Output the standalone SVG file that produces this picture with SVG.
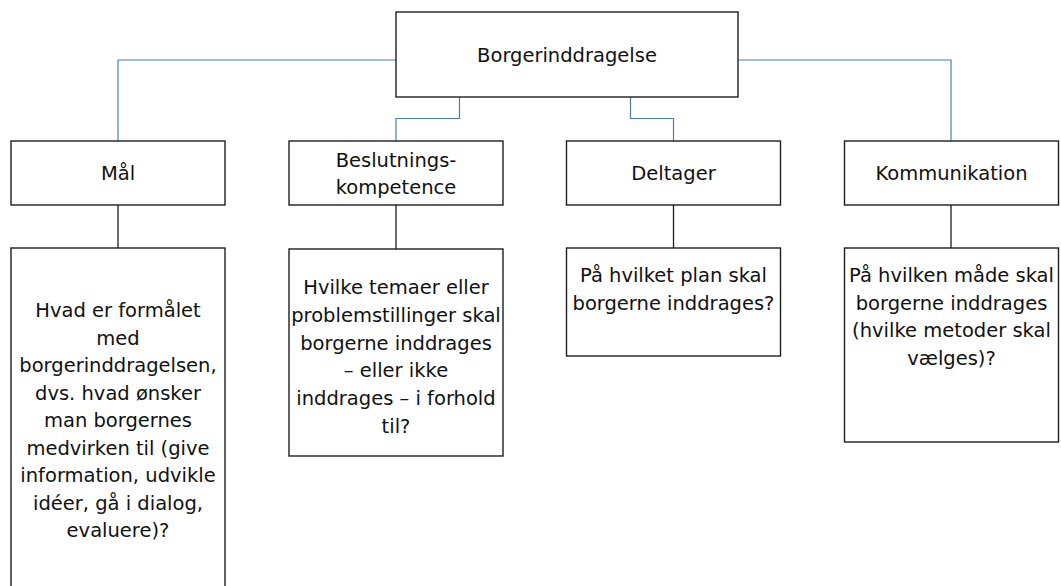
<svg xmlns="http://www.w3.org/2000/svg" width="1061" height="586" viewBox="0 0 1061 586">
<style>
.box{fill:#fff;stroke:#1e1e1e;stroke-width:1.4}
.blue{fill:none;stroke:#4a7ebb;stroke-width:1.2}
.blk{fill:none;stroke:#1e1e1e;stroke-width:1.3}
text{font-family:"DejaVu Sans",Verdana,sans-serif;font-size:19.5px;fill:#111;text-anchor:middle}
</style>
<rect width="1061" height="586" fill="#fff"/>
<g id="connectors">
<polyline class="blue" points="396,60 118,60 118,141"/>
<polyline class="blue" points="459.5,97 459.5,118.5 396,118.5 396,141"/>
<polyline class="blue" points="630.5,97 630.5,118.5 673.5,118.5 673.5,141"/>
<polyline class="blue" points="738,60 951,60 951,141"/>
<line class="blk" x1="118" y1="205" x2="118" y2="248"/>
<line class="blk" x1="396" y1="205" x2="396" y2="249"/>
<line class="blk" x1="673.5" y1="205" x2="673.5" y2="248"/>
<line class="blk" x1="951" y1="205" x2="951" y2="248"/>
</g>
<g id="borgerinddragelse">
<rect class="box" x="396" y="12" width="342" height="85"/>
<text x="567" y="62">Borgerinddragelse</text>
</g>
<g id="maal">
<rect class="box" x="11" y="141" width="214" height="64"/>
<text x="118" y="180">Mål</text>
</g>
<g id="beslutning">
<rect class="box" x="289" y="141" width="214" height="64"/>
<text x="396" y="167">Beslutnings-</text>
<text x="396" y="194">kompetence</text>
</g>
<g id="deltager">
<rect class="box" x="566.5" y="141" width="214" height="64"/>
<text x="673.5" y="180">Deltager</text>
</g>
<g id="kommunikation">
<rect class="box" x="844.5" y="141" width="214" height="64"/>
<text x="951.5" y="180">Kommunikation</text>
</g>
<g id="maal-detail">
<rect class="box" x="11" y="248" width="214" height="360"/>
<text x="118" y="317">Hvad er formålet</text>
<text x="118" y="344.5">med</text>
<text x="118" y="372">borgerinddragelsen,</text>
<text x="118" y="399.5">dvs. hvad ønsker</text>
<text x="118" y="427">man borgernes</text>
<text x="118" y="454.5">medvirken til (give</text>
<text x="118" y="482">information, udvikle</text>
<text x="118" y="509.5">idéer, gå i dialog,</text>
<text x="118" y="537">evaluere)?</text>
</g>
<g id="beslutning-detail">
<rect class="box" x="289" y="249" width="214" height="207"/>
<text x="396" y="294">Hvilke temaer eller</text>
<text x="396" y="322">problemstillinger skal</text>
<text x="396" y="349.5">borgerne inddrages</text>
<text x="396" y="377">– eller ikke</text>
<text x="396" y="405">inddrages – i forhold</text>
<text x="396" y="433">til?</text>
</g>
<g id="deltager-detail">
<rect class="box" x="566.5" y="248" width="214" height="108"/>
<text x="673.5" y="282">På hvilket plan skal</text>
<text x="673.5" y="309.5">borgerne inddrages?</text>
</g>
<g id="kommunikation-detail">
<rect class="box" x="844.5" y="248" width="214" height="194"/>
<text x="951.5" y="282">På hvilken måde skal</text>
<text x="951.5" y="309.5">borgerne inddrages</text>
<text x="951.5" y="337">(hvilke metoder skal</text>
<text x="951.5" y="364.5">vælges)?</text>
</g>
</svg>
